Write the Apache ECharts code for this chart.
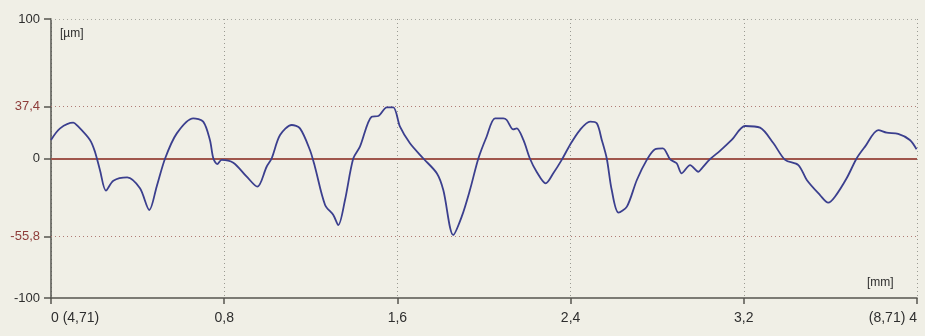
<!DOCTYPE html>
<html>
<head>
<meta charset="utf-8">
<title>Profil</title>
<script src="https://cdn.jsdelivr.net/npm/echarts@6/dist/echarts.min.js"></script>
<style>
  html, body { margin: 0; padding: 0; background: #f0efe6; }
  #chart { width: 925px; height: 336px; }
</style>
</head>
<body>
<div id="chart"></div>
<script>
// Profile trace: position along the scan [mm] and height [µm]
const positionMm = [
  0.000, 0.042, 0.103, 0.119, 0.180, 0.203, 0.226, 0.254, 0.288, 0.352,
  0.411, 0.454, 0.488, 0.527, 0.581, 0.657, 0.703, 0.734, 0.750, 0.768,
  0.788, 0.842, 0.904, 0.953, 0.996, 1.019, 1.058, 1.112, 1.150, 1.196,
  1.219, 1.266, 1.304, 1.327, 1.358, 1.396, 1.427, 1.481, 1.512, 1.551,
  1.581, 1.612, 1.658, 1.720, 1.782, 1.812, 1.858, 1.897, 1.935, 1.974,
  2.012, 2.051, 2.089, 2.105, 2.135, 2.151, 2.182, 2.212, 2.243, 2.285,
  2.320, 2.359, 2.397, 2.443, 2.490, 2.521, 2.544, 2.567, 2.590, 2.621,
  2.660, 2.706, 2.752, 2.790, 2.826, 2.860, 2.890, 2.913, 2.952, 2.990,
  3.006, 3.044, 3.090, 3.144, 3.206, 3.275, 3.337, 3.391, 3.452, 3.491,
  3.552, 3.590, 3.621, 3.675, 3.721, 3.760, 3.821, 3.860, 3.913, 3.967,
  3.998
];
const profileUm = [
  13.3, 21.6, 25.7, 24.0, 13.3, 4.9, -8.2, -23.0, -15.9, -13.5,
  -21.4, -36.9, -20.2, 0.0, 18.0, 28.8, 26.4, 13.3, 0.0, -4.0,
  -1.0, -3.0, -13.0, -20.2, -5.9, 0.0, 16.8, 24.0, 21.6, 6.1,
  -5.9, -33.3, -40.5, -47.7, -29.7, 0.0, 8.5, 30.0, 30.5, 36.7,
  36.7, 22.8, 10.9, 0.0, -10.6, -22.6, -54.8, -41.7, -22.6, 0.0,
  15.6, 28.8, 28.8, 27.6, 20.9, 21.6, 13.3, 0.0, -9.5, -17.8,
  -10.6, -1.0, 9.7, 20.4, 26.4, 25.2, 13.3, 0.0, -22.6, -38.8,
  -34.5, -15.4, -1.0, 6.6, 7.3, -0.7, -3.4, -10.6, -4.7, -9.5,
  -7.0, -0.5, 5.5, 13.3, 23.3, 22.1, 10.9, -1.0, -4.7, -15.4,
  -26.2, -31.7, -27.4, -14.2, 0.0, 8.5, 20.4, 18.5, 17.6, 13.3,
  6.6
];

// Y tick values: range limits, zero line and the peak / valley limits
const yTickValues = [-100, -55.8, 0, 37.4, 100];
const limitValues = [37.4, -55.8];
const xTickLabels = ['0 (4,71)', '0,8', '1,6', '2,4', '3,2', '(8,71) 4'];
const unitY = '[µm]';
const unitX = '[mm]';

const points = positionMm.map((x, i) => [x, profileUm[i]]);

const axisColor = '#55554f';
const limitColor = '#8e3d3a';
const textColor = '#2e2e2e';
const fontFamily = '"Liberation Sans", Arial, sans-serif';

const chart = echarts.init(document.getElementById('chart'));
chart.setOption({
  backgroundColor: '#f0efe6',
  animation: false,
  grid: { left: 51, right: 8, top: 19, bottom: 38, containLabel: false },
  graphic: [
    { type: 'text', left: 60, top: 28,
      style: { text: unitY, fill: textColor, font: '12px ' + fontFamily } },
    { type: 'text', left: 867, top: 277,
      style: { text: unitX, fill: textColor, font: '12px ' + fontFamily } }
  ],
  xAxis: {
    type: 'value',
    min: 0, max: 4, interval: 0.8,
    axisLine: { show: true, onZero: false, lineStyle: { color: axisColor, width: 1.5 } },
    axisTick: { show: true, inside: false, length: 6, lineStyle: { color: axisColor, width: 1.5 } },
    axisLabel: {
      margin: 13,
      color: textColor,
      fontSize: 14,
      fontFamily: fontFamily,
      alignMinLabel: 'left',
      alignMaxLabel: 'right',
      formatter: (v) => xTickLabels[Math.round(v / 0.8)]
    },
    splitLine: { show: true, lineStyle: { color: '#9a9a92', type: [1, 3], width: 1 } }
  },
  yAxis: {
    type: 'value',
    min: -100, max: 100,
    axisLine: { show: true, onZero: false, lineStyle: { color: axisColor, width: 1.5 } },
    axisTick: { show: true, length: 7, customValues: yTickValues,
      lineStyle: { color: axisColor, width: 1.5 } },
    axisLabel: {
      margin: 11,
      fontSize: 13,
      fontFamily: fontFamily,
      customValues: yTickValues,
      color: (v) => (limitValues.indexOf(Number(v)) >= 0 ? limitColor : textColor),
      formatter: (v) => String(v).replace('.', ',')
    },
    splitLine: { show: false }
  },
  series: [{
    type: 'line',
    data: points,
    showSymbol: false,
    smooth: 0.3,
    lineStyle: { color: '#3b3f8e', width: 1.8 },
    z: 5,
    markLine: {
      silent: true,
      symbol: 'none',
      label: { show: false },
      data: [
        { yAxis: 100, lineStyle: { color: '#a8a8a0', type: [1, 3], width: 1 } },
        { yAxis: 37.4, lineStyle: { color: '#b07a74', type: [1, 3], width: 1 } },
        { yAxis: -55.8, lineStyle: { color: '#b07a74', type: [1, 3], width: 1 } },
        { yAxis: 0, lineStyle: { color: '#a0564c', type: 'solid', width: 2 } }
      ]
    }
  }]
});
</script>
</body>
</html>
